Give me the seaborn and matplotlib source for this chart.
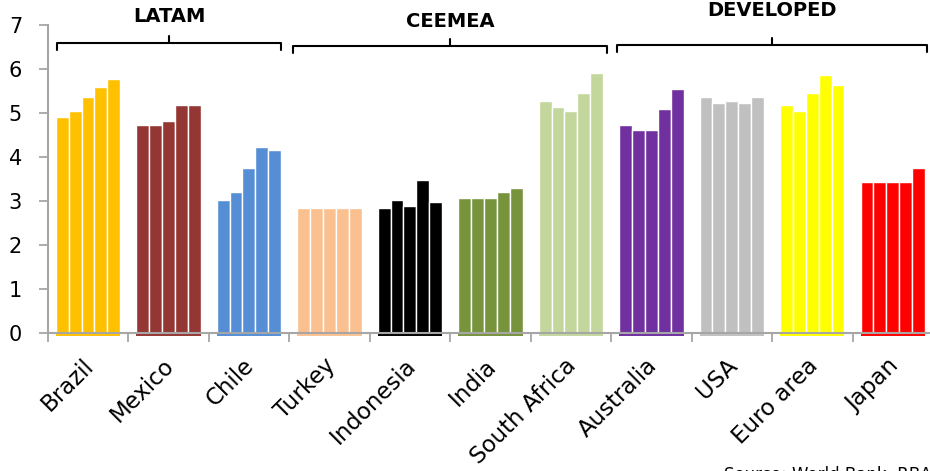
import numpy as np
import pandas as pd
import matplotlib
matplotlib.use("Agg")
import matplotlib.pyplot as plt
from matplotlib.transforms import ScaledTranslation
import seaborn as sns

# Countries, their bar colours and the five periods shown per country
countries = ["Brazil", "Mexico", "Chile", "Turkey", "Indonesia", "India",
             "South Africa", "Australia", "USA", "Euro area", "Japan"]
colors = ["#FFC000", "#943634", "#558ED5", "#FAC090", "#000000", "#77933C",
          "#C3D69B", "#7030A0", "#C0C0C0", "#FFFF00", "#FF0000"]
periods = ["1", "2", "3", "4", "5"]

brazil = [4.90, 5.04, 5.36, 5.59, 5.78]
mexico = [4.72, 4.72, 4.81, 5.18, 5.18]
chile = [3.02, 3.20, 3.75, 4.22, 4.17]
turkey = [2.83, 2.83, 2.83, 2.83, 2.83]
indonesia = [2.83, 3.02, 2.88, 3.47, 2.97]
india = [3.06, 3.06, 3.06, 3.20, 3.29]
south_africa = [5.27, 5.13, 5.04, 5.45, 5.91]
australia = [4.72, 4.62, 4.62, 5.09, 5.54]
usa = [5.36, 5.22, 5.27, 5.22, 5.36]
euro_area = [5.18, 5.04, 5.45, 5.86, 5.63]
japan = [3.43, 3.43, 3.43, 3.43, 3.75]

series = [brazil, mexico, chile, turkey, indonesia, india, south_africa,
          australia, usa, euro_area, japan]

# Regional groupings: label, first and last country index
groups = [("LATAM", 0, 2), ("CEEMEA", 3, 6), ("DEVELOPED", 7, 10)]

rows = []
for country, vals in zip(countries, series):
    for p, v in zip(periods, vals):
        rows.append({"country": country, "period": p, "value": v})
df = pd.DataFrame(rows)

sns.set_style("white")
plt.rcParams["font.family"] = ["DejaVu Sans"]
plt.rcParams["text.color"] = "black"

W, H = 930, 471
fig = plt.figure(figsize=(W / 100, H / 100), dpi=100)
ax = fig.add_axes([47.7 / W, 1 - 333 / H, (933 - 47.7) / W, (333 - 25) / H])

sns.barplot(data=df, x="country", y="value", hue="period", order=countries,
            hue_order=periods, width=0.8, dodge=True, legend=False,
            palette=["#888888"] * len(periods), edgecolor="white",
            linewidth=1.0, saturation=1, ax=ax)

# colour each bar by its country
for container in ax.containers:
    for i, patch in enumerate(container):
        patch.set_facecolor(colors[i])

# thin coloured underline beneath each country's bar cluster
below = ax.transData + ScaledTranslation(0, -1.9 / 100, fig.dpi_scale_trans)
for i, c in enumerate(colors):
    bars = [container[i] for container in ax.containers]
    x0 = min(b.get_x() for b in bars)
    x1 = max(b.get_x() + b.get_width() for b in bars)
    ax.plot([x0, x1], [0, 0], color=c, lw=1.4, transform=below,
            clip_on=False, zorder=3, solid_capstyle="butt")

grey = "#A6A6A6"
ax.set_ylim(0, 7)
ax.set_xlim(-0.5, len(countries) - 0.5)
ax.set_xlabel("")
ax.set_ylabel("")

ax.set_yticks(range(0, 8))
ax.tick_params(axis="y", length=6.5, width=1.3, color=grey, pad=12,
               labelsize=15, labelcolor="black", left=True, direction="out")

ax.set_xticks(range(len(countries)))
ax.set_xticklabels(countries, rotation=45, ha="right", va="top",
                   rotation_mode="anchor", fontsize=16.5, color="black")
ax.tick_params(axis="x", which="major", length=0, pad=8)
shift = ScaledTranslation(-6 / 100, -10 / 100, fig.dpi_scale_trans)
for lab in ax.get_xticklabels():
    lab.set_transform(lab.get_transform() + shift)
ax.set_xticks(np.arange(-0.5, len(countries), 1.0), minor=True)
ax.tick_params(axis="x", which="minor", length=6.5, width=1.3, color=grey,
               bottom=True, direction="out")

for side in ["top", "right"]:
    ax.spines[side].set_visible(False)
for side in ["left", "bottom"]:
    ax.spines[side].set_color(grey)
    ax.spines[side].set_linewidth(1.5)

# group brackets and labels above the bars
bracket_y = {"LATAM": 6.60, "CEEMEA": 6.53, "DEVELOPED": 6.55}
label_y = {"LATAM": 7.19, "CEEMEA": 7.07, "DEVELOPED": 7.34}
spans = {"LATAM": (-0.38, 2.40), "CEEMEA": (2.55, 6.45), "DEVELOPED": (6.57, 10.43)}
for name, first, last in groups:
    x0, x1 = spans[name]
    y = bracket_y[name]
    xm = (x0 + x1) / 2
    ax.plot([x0, x0, x1, x1], [y - 0.16, y, y, y - 0.16], color="black",
            lw=1.5, clip_on=False, solid_joinstyle="round")
    ax.plot([xm, xm], [y, y + 0.15], color="black", lw=1.5, clip_on=False)
    ax.text(xm, label_y[name], name, ha="center", va="center",
            fontsize=14, fontweight="bold", clip_on=False)

fig.text(724 / W, 1 - 466 / H, "Source: World Bank, RBA", ha="left",
         va="top", fontsize=12)

fig.savefig("out.png", dpi=100)
